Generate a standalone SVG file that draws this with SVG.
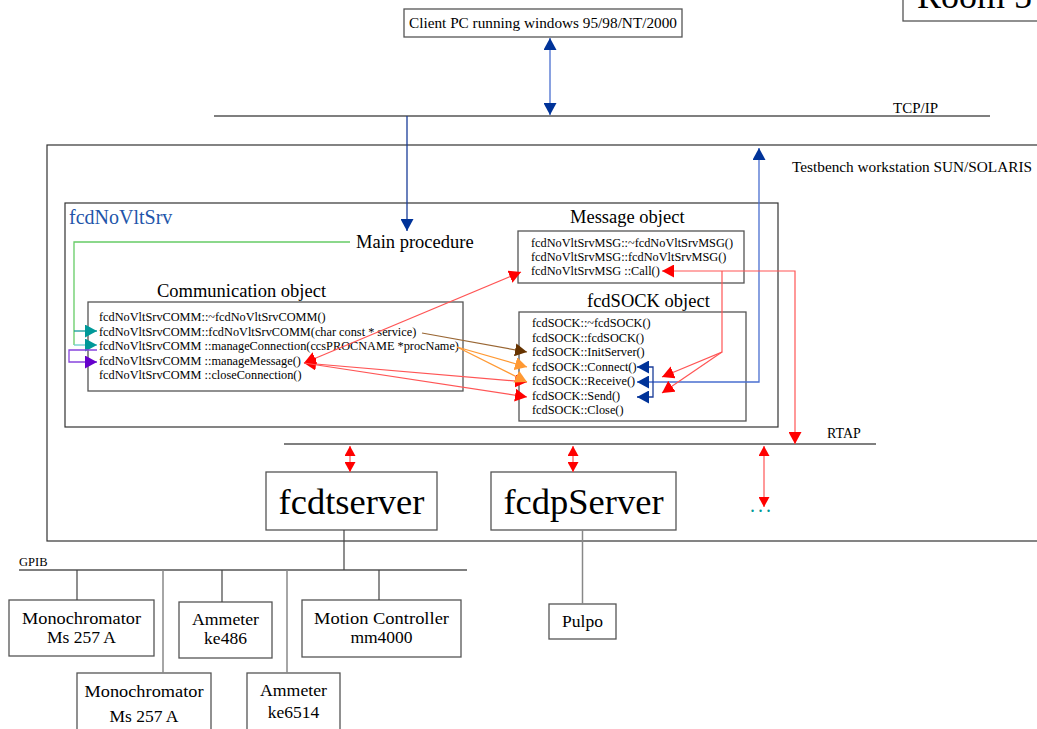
<svg xmlns="http://www.w3.org/2000/svg" width="1037" height="729" viewBox="0 0 1037 729">
<style>
text{font-family:"Liberation Serif","Times New Roman",serif;fill:#000}
.box{fill:#fff;stroke:#555;stroke-width:1.3}
.frame{fill:none;stroke:#333;stroke-width:1.2}
.bus{stroke:#555;stroke-width:1.3;fill:none}
.drop{stroke:#444;stroke-width:1.2;fill:none}
.drop2{stroke:#888;stroke-width:1.5;fill:none}
.m{font-size:12.3px}
.t18{font-size:18.5px}
.t13{font-size:14px}
.big{font-size:36.5px;text-anchor:middle}
.dev{font-size:17.5px;text-anchor:middle}
.red{stroke:#f55;stroke-width:1.2;fill:none}
.blue{stroke:#4a6fd0;stroke-width:1.3;fill:none}
.dblue{stroke:#1a3d99;stroke-width:1.3;fill:none}
</style>
<defs>
<marker id="hr" markerUnits="userSpaceOnUse" markerWidth="13" markerHeight="13" refX="12" refY="6.5" orient="auto-start-reverse"><path d="M0,0 L12,6.5 L0,13 z" fill="#f00"/></marker>
<marker id="hrs" markerUnits="userSpaceOnUse" markerWidth="11" markerHeight="11" refX="10" refY="5.5" orient="auto-start-reverse"><path d="M0,0 L10,5.5 L0,11 z" fill="#f00"/></marker>
<marker id="hb" markerUnits="userSpaceOnUse" markerWidth="13" markerHeight="13" refX="12" refY="6.5" orient="auto-start-reverse"><path d="M0,0 L12,6.5 L0,13 z" fill="#039"/></marker>
<marker id="ht" markerUnits="userSpaceOnUse" markerWidth="13" markerHeight="13" refX="12" refY="6.5" orient="auto"><path d="M0,0 L12,6.5 L0,13 z" fill="#099"/></marker>
<marker id="hp" markerUnits="userSpaceOnUse" markerWidth="13" markerHeight="13" refX="12" refY="6.5" orient="auto"><path d="M0,0 L12,6.5 L0,13 z" fill="#60c"/></marker>
<marker id="ho" markerUnits="userSpaceOnUse" markerWidth="13" markerHeight="13" refX="12" refY="6.5" orient="auto"><path d="M0,0 L12,6.5 L0,13 z" fill="#f93"/></marker>
<marker id="hbr" markerUnits="userSpaceOnUse" markerWidth="13" markerHeight="13" refX="12" refY="6.5" orient="auto"><path d="M0,0 L12,6.5 L0,13 z" fill="#630"/></marker>
</defs>
<rect width="1037" height="729" fill="#fff"/>

<g id="room">
<rect class="box" x="903" y="-5" width="140" height="26"/>
<text x="917" y="8" font-size="36">Room 5</text>
</g>

<g id="client-pc">
<rect class="box" x="404" y="9" width="278" height="28"/>
<text x="543" y="28" font-size="14" text-anchor="middle" textLength="268" lengthAdjust="spacingAndGlyphs">Client PC running windows 95/98/NT/2000</text>
</g>

<g id="tcpip">
<line class="bus" x1="214" y1="116" x2="990" y2="116"/>
<text class="t13" x="893" y="113" textLength="45" lengthAdjust="spacingAndGlyphs">TCP/IP</text>
</g>

<g id="testbench">
<rect class="frame" x="47" y="145" width="1000" height="396"/>
<text x="792" y="172" font-size="14.5" textLength="240" lengthAdjust="spacingAndGlyphs">Testbench workstation SUN/SOLARIS</text>
</g>

<g id="fcdNoVltSrv">
<rect class="frame" x="65" y="203" width="713" height="224"/>
<text x="69" y="224" font-size="20" style="fill:#2255aa">fcdNoVltSrv</text>
</g>

<g id="main-procedure">
<text class="t18" x="356" y="248">Main procedure</text>
</g>

<g id="communication-object">
<text class="t18" x="157" y="297">Communication object</text>
<rect class="box" x="88" y="302" width="375" height="89"/>
<text class="m" x="99" y="321">fcdNoVltSrvCOMM::~fcdNoVltSrvCOMM()</text>
<text class="m" x="99" y="335.5">fcdNoVltSrvCOMM::fcdNoVltSrvCOMM(char const * service)</text>
<text class="m" x="99" y="350">fcdNoVltSrvCOMM ::manageConnection(ccsPROCNAME *procName)</text>
<text class="m" x="99" y="364.5">fcdNoVltSrvCOMM ::manageMessage()</text>
<text class="m" x="99" y="379">fcdNoVltSrvCOMM ::closeConnection()</text>
</g>

<g id="message-object">
<text class="t18" x="570" y="223">Message object</text>
<rect class="box" x="518" y="231" width="226" height="52"/>
<text class="m" x="531" y="247">fcdNoVltSrvMSG::~fcdNoVltSrvMSG()</text>
<text class="m" x="531" y="261">fcdNoVltSrvMSG::fcdNoVltSrvMSG()</text>
<text class="m" x="531" y="275">fcdNoVltSrvMSG ::Call()</text>
</g>

<g id="fcdsock-object">
<text class="t18" x="587" y="307">fcdSOCK object</text>
<rect class="box" x="519" y="312" width="227" height="109"/>
<text class="m" x="532" y="327">fcdSOCK::~fcdSOCK()</text>
<text class="m" x="532" y="341.5">fcdSOCK::fcdSOCK()</text>
<text class="m" x="532" y="356">fcdSOCK::InitServer()</text>
<text class="m" x="532" y="370.5">fcdSOCK::Connect()</text>
<text class="m" x="532" y="385">fcdSOCK::Receive()</text>
<text class="m" x="532" y="399.5">fcdSOCK::Send()</text>
<text class="m" x="532" y="414">fcdSOCK::Close()</text>
</g>

<g id="rtap">
<line class="bus" x1="284" y1="444" x2="876" y2="444"/>
<text class="t13" x="827" y="438">RTAP</text>
</g>

<g id="fcdtserver">
<rect class="box" x="266" y="472" width="171" height="58"/>
<text class="big" x="351.5" y="514">fcdtserver</text>
</g>

<g id="fcdpserver">
<rect class="box" x="491" y="472" width="185" height="58"/>
<text class="big" x="583.5" y="514">fcdpServer</text>
</g>

<g id="more-servers">
<text x="750" y="512" font-size="20" letter-spacing="3" style="fill:#099">...</text>
</g>

<g id="gpib">
<line class="bus" x1="19" y1="570" x2="467" y2="570"/>
<text x="19" y="566" font-size="12.5">GPIB</text>
</g>

<g id="monochromator-1">
<rect class="box" x="9" y="600" width="145" height="56"/>
<text class="dev" x="81.5" y="624" textLength="119" lengthAdjust="spacingAndGlyphs">Monochromator</text>
<text class="dev" x="81.5" y="643">Ms 257  A</text>
</g>

<g id="ammeter-ke486">
<rect class="box" x="179" y="602" width="93" height="56"/>
<text class="dev" x="225.5" y="625" textLength="67" lengthAdjust="spacingAndGlyphs">Ammeter</text>
<text class="dev" x="225.5" y="644">ke486</text>
</g>

<g id="motion-controller">
<rect class="box" x="302" y="600" width="159" height="57"/>
<text class="dev" x="381.5" y="624" textLength="135" lengthAdjust="spacingAndGlyphs">Motion Controller</text>
<text class="dev" x="381.5" y="643">mm4000</text>
</g>

<g id="monochromator-2">
<rect class="box" x="77" y="673" width="134" height="70"/>
<text class="dev" x="144" y="697" textLength="119" lengthAdjust="spacingAndGlyphs">Monochromator</text>
<text class="dev" x="144" y="722">Ms 257  A</text>
</g>

<g id="ammeter-ke6514">
<rect class="box" x="247" y="673" width="93" height="70"/>
<text class="dev" x="293.5" y="696" textLength="67" lengthAdjust="spacingAndGlyphs">Ammeter</text>
<text class="dev" x="293.5" y="718">ke6514</text>
</g>

<g id="pulpo">
<rect class="box" x="549" y="604" width="67" height="35"/>
<text class="dev" x="582.5" y="627">Pulpo</text>
</g>

<g id="connectors">
<line class="blue" x1="550" y1="38" x2="550" y2="115" marker-start="url(#hb)" marker-end="url(#hb)"/>
<line class="dblue" x1="407" y1="116" x2="407" y2="231" marker-end="url(#hb)"/>
<path class="blue" d="M759,148 L759,382 L637,382" marker-start="url(#hb)" marker-end="url(#hb)"/>
<path class="dblue" d="M637,367 L653,367 L653,397 L637,397" marker-start="url(#hb)" marker-end="url(#hb)"/>

<path d="M350,242 L74,242 L74,345" stroke="#66cc66" stroke-width="1.3" fill="none"/>
<line x1="74" y1="331" x2="97" y2="331" stroke="#199" stroke-width="1.3" marker-end="url(#ht)"/>
<line x1="74" y1="345" x2="97" y2="345" stroke="#6cc" stroke-width="1.3" marker-end="url(#ht)"/>
<path d="M97,350 L69,350 L69,362 L97,362" stroke="#84d" stroke-width="1.3" fill="none" marker-end="url(#hp)"/>

<line class="red" x1="304" y1="363" x2="521" y2="272" marker-start="url(#hr)" marker-end="url(#hr)"/>
<line class="red" x1="304" y1="363" x2="527" y2="382" marker-start="url(#hr)" marker-end="url(#hr)"/>
<line class="red" x1="304" y1="363" x2="527" y2="397" marker-end="url(#hr)"/>
<line x1="422" y1="333" x2="527" y2="352" stroke="#963" stroke-width="1.2" marker-end="url(#hbr)"/>
<line x1="457" y1="347" x2="527" y2="367" stroke="#f93" stroke-width="1.2" marker-end="url(#ho)"/>
<line x1="457" y1="347" x2="527" y2="382" stroke="#f93" stroke-width="1.2" marker-end="url(#ho)"/>

<path class="red" d="M662,271 L795,271 L795,444" marker-start="url(#hr)" marker-end="url(#hr)"/>
<path class="red" d="M722,271 L722,352 L662,377" marker-end="url(#hr)"/>
<line class="red" x1="722" y1="352" x2="662" y2="393" marker-end="url(#hr)"/>

<line class="red" x1="350" y1="446" x2="350" y2="472" marker-start="url(#hrs)" marker-end="url(#hrs)"/>
<line class="red" x1="573" y1="446" x2="573" y2="472" marker-start="url(#hrs)" marker-end="url(#hrs)"/>
<line class="red" x1="764" y1="446" x2="764" y2="507" marker-start="url(#hrs)" marker-end="url(#hrs)"/>

<line class="drop" x1="344" y1="530" x2="344" y2="570"/>
<line class="drop2" x1="582.5" y1="530" x2="582.5" y2="604"/>
<line class="drop" x1="77" y1="570" x2="77" y2="600"/>
<line class="drop2" x1="163" y1="570" x2="163" y2="673"/>
<line class="drop" x1="222" y1="570" x2="222" y2="602"/>
<line class="drop2" x1="287" y1="570" x2="287" y2="673"/>
<line class="drop" x1="379" y1="570" x2="379" y2="600"/>
</g>
</svg>
